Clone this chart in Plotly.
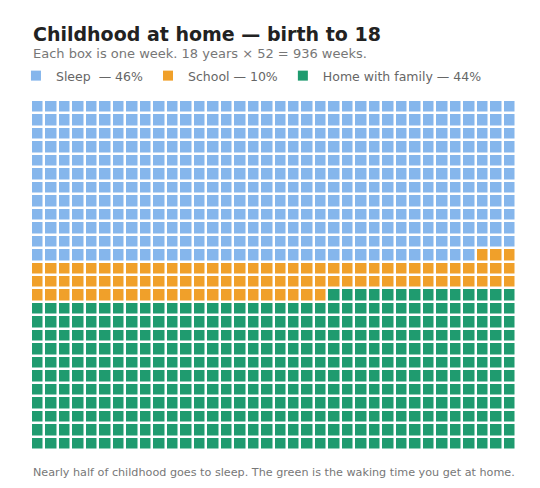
import plotly.graph_objects as go

categories = ["Sleep", "School", "Home with family"]
weeks = [429, 97, 410]
percent_labels = ["Sleep  — 46%", "School — 10%", "Home with family — 44%"]
colors = ["#85b6ec", "#f0a02a", "#1f9b6f"]
n_cols, n_rows = 36, 26

cells = []
for i, w in enumerate(weeks):
    cells += [i] * w
z = [cells[r * n_cols:(r + 1) * n_cols] for r in range(n_rows)]

# page body has an 8px margin, so the figure is offset by 8px
OFF = 8
W, H = 540 - OFF, 488 - OFF
T, B = 100 - OFF, 450 - OFF
def py(p):
    return (B - (p - OFF)) / (B - T)

cs = [[0, colors[0]], [1/3, colors[0]], [1/3, colors[1]], [2/3, colors[1]], [2/3, colors[2]], [1, colors[2]]]
fig = go.Figure()
fig.add_trace(go.Heatmap(z=z, zmin=-0.5, zmax=2.5, colorscale=cs, showscale=False,
                         xgap=2.5, ygap=2.5, hoverinfo="skip"))
for lab, c in zip(percent_labels, colors):
    fig.add_trace(go.Scatter(x=[None], y=[None], mode="markers", name=lab,
                             marker=dict(symbol="square", size=10, color=c)))

fig.update_layout(
    width=W, height=H, plot_bgcolor="white", paper_bgcolor="white",
    margin=dict(l=31 - OFF, r=24, t=T, b=H - B, autoexpand=False),
    font=dict(family="DejaVu Sans", color="#666"),
    xaxis=dict(visible=False, range=[-0.5, n_cols - 0.5]),
    yaxis=dict(visible=False, autorange="reversed"),
    showlegend=True,
    legend=dict(orientation="h", x=-0.031, xanchor="left", y=py(76), yanchor="middle",
                font=dict(size=12.5, color="#666"), itemwidth=30, tracegroupgap=0),
)
fig.add_annotation(text="<b>Childhood at home — birth to 18</b>", xref="paper", yref="paper",
                   x=0, y=py(34), xanchor="left", yanchor="middle", showarrow=False,
                   font=dict(size=19, color="#222"))
fig.add_annotation(text="Each box is one week. 18 years × 52 = 936 weeks.", xref="paper", yref="paper",
                   x=0, y=py(54), xanchor="left", yanchor="middle", showarrow=False,
                   font=dict(size=13, color="#777"))
fig.add_annotation(text="Nearly half of childhood goes to sleep. The green is the waking time you get at home.",
                   xref="paper", yref="paper", x=0, y=py(472), xanchor="left", yanchor="middle",
                   showarrow=False, font=dict(size=11.2, color="#777"))
fig.write_html("out.html")
